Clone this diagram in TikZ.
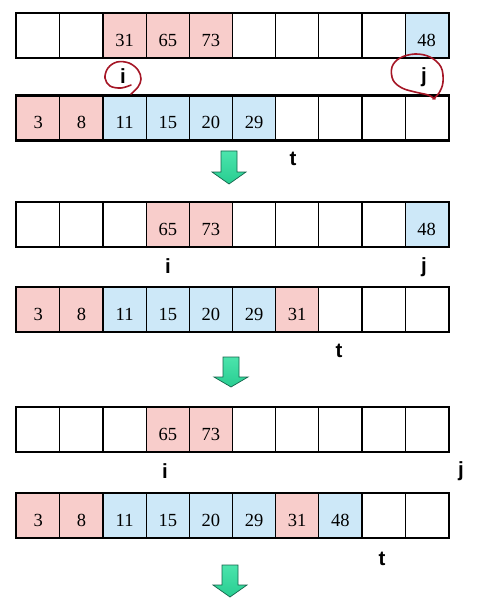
\documentclass[tikz,border=0pt]{standalone}
\usepackage{fontspec}
\setmainfont{Liberation Serif}
\newfontfamily\lblfont{Liberation Sans}
\definecolor{pk}{RGB}{248,205,203}
\definecolor{bl}{RGB}{205,232,248}
\definecolor{arrfill}{RGB}{40,205,145}
\definecolor{arrtop}{RGB}{75,228,172}
\definecolor{arrline}{RGB}{20,100,75}
\definecolor{pen}{RGB}{165,22,38}
\tikzset{
  cell/.style={draw=black, line width=1.1pt, minimum width=43.16pt, minimum height=44pt,
    inner sep=0pt, text height=21.5pt, text depth=0pt,
    font=\fontsize{18.5}{18.5}\selectfont},
  frame/.style={draw=black, line width=2.4pt},
  lab/.style={anchor=base, inner sep=0pt, font=\lblfont\bfseries\fontsize{20.5}{20.5}\selectfont},
  greenarr/.style={top color=arrtop, bottom color=arrfill, draw=arrline, line width=0.7pt, line join=miter},
  penline/.style={draw=pen, line width=1.6pt, line cap=round, line join=round}
}
\newcommand\myrow[3]{%
  \foreach \k/\f/\t in {#3}{
    \node[cell, fill=\f] (#1c\k) at ({16.7+43.16*(\k+0.5)},#2) {\t};
  }
  \draw[frame] (#1c0.north west) rectangle (#1c9.south east);
}
\newcommand\greenarrow[4]{%
  \path[greenarr] ({#1-8},#2) -- ({#1+8},#2) -- ({#1+8},#3) -- ({#1+17},#3) -- (#1,#4)
    -- ({#1-17},#3) -- ({#1-8},#3) -- cycle;
}
\begin{document}
\begin{tikzpicture}[x=1pt,y=-1pt]
\useasboundingbox[fill=white] (0,0) rectangle (476,604);
% block 1
\myrow{ra}{35.5}{0/white/,1/white/,2/pk/31,3/pk/65,4/pk/73,5/white/,6/white/,7/white/,8/white/,9/bl/48}
\myrow{rb}{118}{0/pk/3,1/pk/8,2/bl/11,3/bl/15,4/bl/20,5/bl/29,6/white/,7/white/,8/white/,9/white/}
\node[lab] (ia) at (123,84) {i};
\node[lab] (ja) at (424,83) {j};
\node[lab] (ta) at (293,165) {t};
\draw[penline] plot[smooth, tension=0.6] coordinates {(131,94) (138,87) (141,79) (138,70) (129,63) (117,62) (108,68) (105,78) (110,86) (121,88) (131,85)};
\draw[penline] plot[smooth, tension=0.6] coordinates {(433,99) (439,93) (443,82) (441,67) (430,57) (415,54) (400,58) (392,67) (393,80) (402,88) (415,92) (428,95) (435,99)};
\greenarrow{229}{151}{172}{184}
% block 2
\myrow{rc}{224.5}{0/white/,1/white/,2/white/,3/pk/65,4/pk/73,5/white/,6/white/,7/white/,8/white/,9/bl/48}
\myrow{rd}{309.5}{0/pk/3,1/pk/8,2/bl/11,3/bl/15,4/bl/20,5/bl/29,6/pk/31,7/white/,8/white/,9/white/}
\node[lab] (ib) at (168,273) {i};
\node[lab] (jb) at (424,272) {j};
\node[lab] (tb) at (339,357) {t};
\greenarrow{231}{357}{377}{387}
% block 3
\myrow{re}{429.5}{0/white/,1/white/,2/white/,3/pk/65,4/pk/73,5/white/,6/white/,7/white/,8/white/,9/white/}
\myrow{rf}{515.5}{0/pk/3,1/pk/8,2/bl/11,3/bl/15,4/bl/20,5/bl/29,6/pk/31,7/bl/48,8/white/,9/white/}
\node[lab] (ic) at (165,478) {i};
\node[lab] (jc) at (461,476) {j};
\node[lab] (tc) at (382,565) {t};
\greenarrow{230}{565}{585}{597}
\end{tikzpicture}
\end{document}
